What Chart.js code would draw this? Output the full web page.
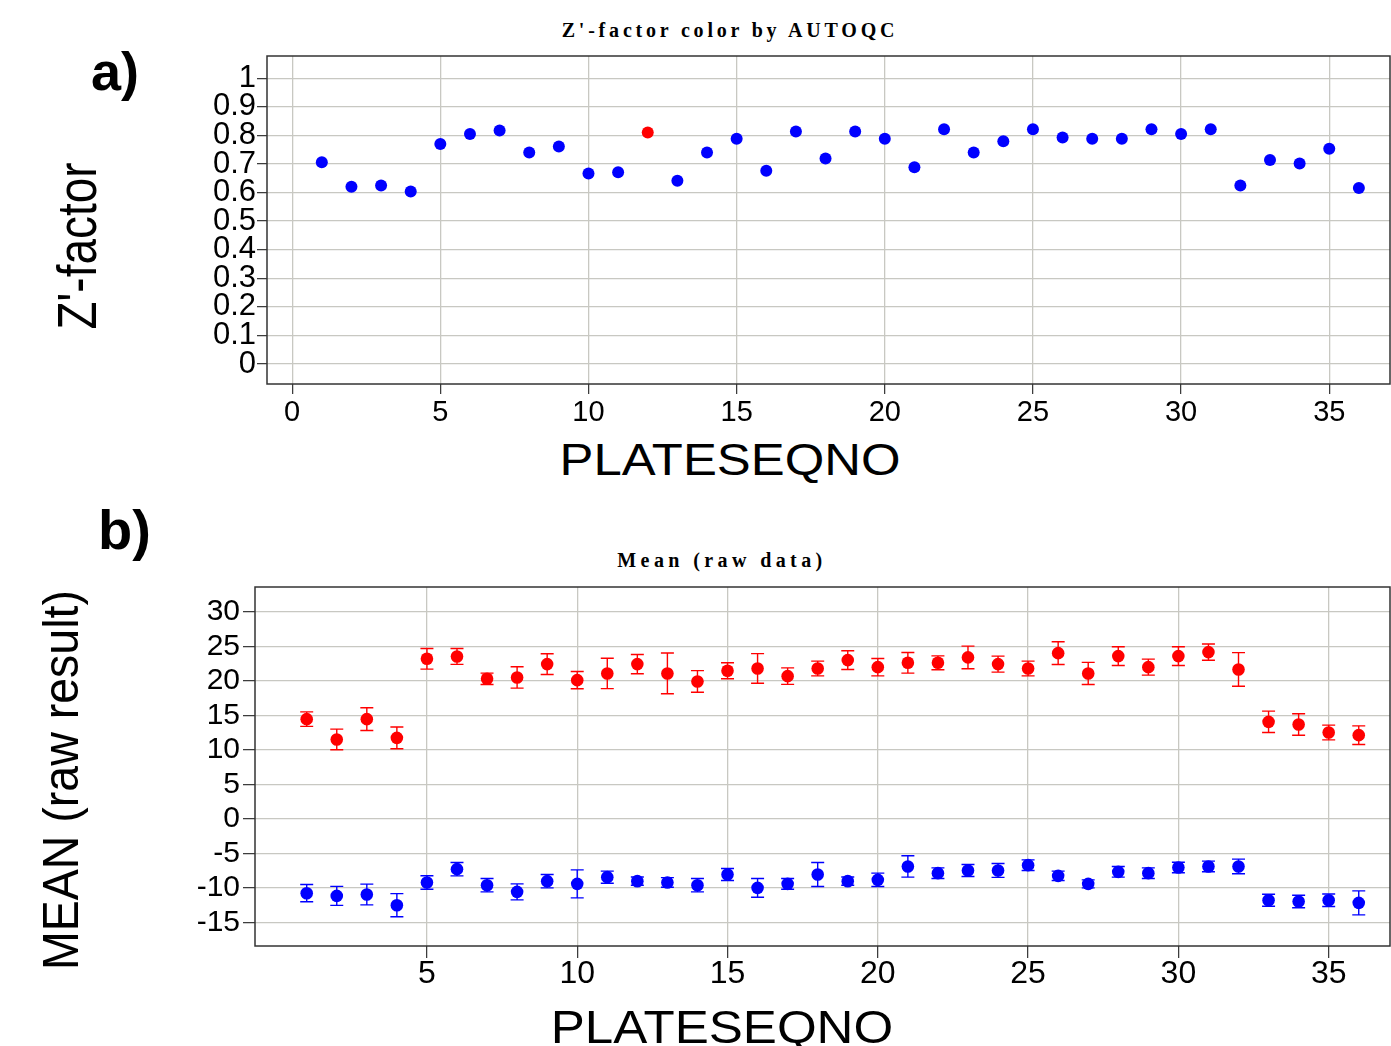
<!DOCTYPE html>
<html>
<head>
<meta charset="utf-8">
<script src="https://cdn.jsdelivr.net/npm/chart.js@4.4.1/dist/chart.umd.min.js"></script>
<style>
  body { margin: 0; background: #fff; width: 1391px; height: 1046px; position: relative; overflow: hidden; }
  canvas { position: absolute; left: 0; }
  #zChart { top: 0; }
  #meanChart { top: 500px; }
  .lbl { position: absolute; white-space: nowrap; line-height: 1; color: #000;
         font-family: "Liberation Sans", Arial, sans-serif; transform: translate(-50%, -50%); }
  .panel { position: absolute; line-height: 1; font-weight: bold; color: #000;
           font-family: "Liberation Sans", Arial, sans-serif; }
  .ttl { position: absolute; white-space: nowrap; line-height: 1; font-weight: bold; color: #000;
         font-family: "Liberation Serif", "Times New Roman", serif; font-size: 20px;
         transform: translate(-50%, -50%); }
</style>
</head>
<body>
<div class="panel" style="left:91px; top:44px; font-size:54px;">a)</div>
<div class="ttl" style="left:730px; top:30px; letter-spacing:3.8px;">Z'-factor color by AUTOQC</div>
<div class="lbl" style="left:77px; top:246px; font-size:56px; transform:translate(-50%,-50%) rotate(-90deg) scaleX(0.82);">Z'-factor</div>
<div class="lbl" style="left:730px; top:459px; font-size:45px; transform:translate(-50%,-50%) scaleX(1.13);">PLATESEQNO</div>
<canvas id="zChart" width="1391" height="440"></canvas>

<div class="panel" style="left:98px; top:502px; font-size:56px;">b)</div>
<div class="ttl" style="left:722px; top:560px; letter-spacing:4.4px;">Mean (raw data)</div>
<div class="lbl" style="left:61px; top:780px; font-size:50px; transform:translate(-50%,-50%) rotate(-90deg) scaleX(0.93);">MEAN (raw result)</div>
<div class="lbl" style="left:722px; top:1027px; font-size:46px; transform:translate(-50%,-50%) scaleX(1.11);">PLATESEQNO</div>
<canvas id="meanChart" width="1391" height="546"></canvas>

<script>
// plate sequence numbers
const plateNo = [1, 2, 3, 4, 5, 6, 7, 8, 9, 10, 11, 12, 13, 14, 15, 16, 17, 18,
                 19, 20, 21, 22, 23, 24, 25, 26, 27, 28, 29, 30, 31, 32, 33, 34, 35, 36];

// Z'-factor per plate
const zFactor = [0.706, 0.620, 0.625, 0.604, 0.770, 0.805, 0.817, 0.740, 0.761, 0.667, 0.671, 0.810,
                 0.641, 0.740, 0.788, 0.676, 0.814, 0.719, 0.814, 0.788, 0.689, 0.822, 0.740, 0.780,
                 0.822, 0.793, 0.788, 0.788, 0.822, 0.805, 0.822, 0.625, 0.714, 0.702, 0.753, 0.616];
// plates flagged by AUTOQC
const autoQcFlagged = [12];

// high control mean and its error per plate
const highMean = [14.46, 11.52, 14.46, 11.75, 23.20, 23.54, 20.30, 20.50, 22.43, 20.11, 21.08, 22.43,
                  21.08, 19.92, 21.46, 21.80, 20.69, 21.80, 23.01, 21.99, 22.62, 22.62, 23.40, 22.43,
                  21.80, 24.02, 21.08, 23.59, 21.99, 23.59, 24.17, 21.66, 14.07, 13.69, 12.53, 12.14];
const highErr = [1.05, 1.50, 1.65, 1.57, 1.50, 1.15, 0.82, 1.55, 1.50, 1.25, 2.20, 1.40,
                 2.95, 1.57, 1.16, 2.15, 1.20, 1.07, 1.35, 1.26, 1.50, 1.00, 1.64, 1.16,
                 1.07, 1.64, 1.60, 1.35, 1.16, 1.35, 1.17, 2.43, 1.55, 1.56, 1.07, 1.35];

// low control mean and its error per plate
const lowMean = [-10.75, -11.14, -10.94, -12.49, -9.20, -7.27, -9.59, -10.56, -9.01, -9.40, -8.43, -9.01,
                 -9.20, -9.59, -8.04, -9.98, -9.40, -8.04, -9.01, -8.82, -6.88, -7.85, -7.46, -7.46,
                 -6.69, -8.24, -9.40, -7.66, -7.85, -7.03, -6.88, -6.88, -11.77, -11.95, -11.77, -12.15];
const lowErr = [1.25, 1.38, 1.50, 1.67, 0.97, 0.97, 0.97, 1.16, 0.97, 2.03, 0.87, 0.60,
                0.70, 0.97, 0.87, 1.35, 0.77, 1.74, 0.60, 0.97, 1.55, 0.77, 0.87, 1.00,
                0.77, 0.68, 0.58, 0.77, 0.77, 0.77, 0.77, 1.06, 0.87, 0.90, 0.90, 1.74];

// tick values
const zTicks = [0, 0.1, 0.2, 0.3, 0.4, 0.5, 0.6, 0.7, 0.8, 0.9, 1];
const plateTicksTop = [0, 5, 10, 15, 20, 25, 30, 35];
const meanTicks = [-15, -10, -5, 0, 5, 10, 15, 20, 25, 30];
const plateTicksBottom = [5, 10, 15, 20, 25, 30, 35];

const FONT = '"Liberation Sans", Arial, sans-serif';
const GRID = 'rgb(200,200,194)';

// box around the plot area
const frame = {
  id: 'frame',
  beforeDatasetsDraw(chart) {
    const { ctx, chartArea: a } = chart;
    ctx.save();
    ctx.strokeStyle = '#333';
    ctx.lineWidth = 1.5;
    ctx.strokeRect(a.left, a.top, a.right - a.left, a.bottom - a.top);
    ctx.restore();
  }
};

// vertical error bars with caps, drawn under the dots
const errorBars = {
  id: 'errorBars',
  beforeDatasetsDraw(chart) {
    const { ctx, scales: { x, y } } = chart;
    chart.data.datasets.forEach(ds => {
      if (!ds.errors) return;
      ctx.save();
      ctx.strokeStyle = ds.backgroundColor;
      ctx.lineWidth = 1.4;
      ds.data.forEach((p, i) => {
        const px = x.getPixelForValue(p.x);
        const top = y.getPixelForValue(p.y + ds.errors[i]);
        const bot = y.getPixelForValue(p.y - ds.errors[i]);
        ctx.beginPath();
        ctx.moveTo(px, top); ctx.lineTo(px, bot);
        ctx.moveTo(px - 6.5, top); ctx.lineTo(px + 6.5, top);
        ctx.moveTo(px - 6.5, bot); ctx.lineTo(px + 6.5, bot);
        ctx.stroke();
      });
      ctx.restore();
    });
  }
};

function linearAxis(min, max, tickList, cfg) {
  return {
    type: 'linear',
    min: min,
    max: max,
    afterBuildTicks: s => { s.ticks = tickList.map(v => ({ value: v })); },
    afterFit: s => {
      if (cfg.width) s.width = cfg.width;
      if (cfg.height) s.height = cfg.height;
      // keep edge labels from shrinking the plot area
      s.paddingLeft = s.paddingRight = s.paddingTop = s.paddingBottom = 0;
    },
    border: { display: false },
    grid: { color: GRID, lineWidth: 1.3, tickColor: '#333', tickWidth: 1.2, tickLength: cfg.tickLength },
    ticks: {
      autoSkip: false,
      maxRotation: 0,
      color: '#000',
      padding: cfg.padding,
      font: { family: FONT, size: cfg.fontSize, lineHeight: 1 },
      callback: v => String(+v.toFixed(1))
    }
  };
}

function xy(xs, ys) {
  return xs.map((x, i) => ({ x: x, y: ys[i] }));
}

const common = {
  responsive: false,
  animation: false,
  events: [],
  plugins: { legend: { display: false }, tooltip: { enabled: false } }
};

new Chart(document.getElementById('zChart'), {
  type: 'scatter',
  data: {
    datasets: [{
      data: xy(plateNo, zFactor),
      pointRadius: 6,
      borderWidth: 0,
      pointBackgroundColor: plateNo.map(p => autoQcFlagged.includes(p) ? '#ff0000' : '#0000ff')
    }]
  },
  options: Object.assign({}, common, {
    layout: { autoPadding: false, padding: { top: 56, right: 1, bottom: 0, left: 0 } },
    scales: {
      x: linearAxis(-0.85, 37.05, plateTicksTop, { height: 56, tickLength: 10, padding: 4, fontSize: 29 }),
      y: linearAxis(-0.07, 1.078, zTicks, { width: 267, tickLength: 10, padding: 1, fontSize: 31 })
    }
  }),
  plugins: [frame]
});

new Chart(document.getElementById('meanChart'), {
  type: 'scatter',
  data: {
    datasets: [{
      data: xy(plateNo, highMean),
      errors: highErr,
      backgroundColor: '#ff0000',
      pointRadius: 6.3,
      borderWidth: 0
    }, {
      data: xy(plateNo, lowMean),
      errors: lowErr,
      backgroundColor: '#0000ff',
      pointRadius: 6.3,
      borderWidth: 0
    }]
  },
  options: Object.assign({}, common, {
    layout: { autoPadding: false, padding: { top: 87, right: 1, bottom: 0, left: 0 } },
    scales: {
      x: linearAxis(-0.72, 37.04, plateTicksBottom, { height: 100, tickLength: 12, padding: 0, fontSize: 32 }),
      y: linearAxis(-18.4, 33.6, meanTicks, { width: 255, tickLength: 12, padding: 3, fontSize: 30 })
    }
  }),
  plugins: [frame, errorBars]
});
</script>
</body>
</html>
